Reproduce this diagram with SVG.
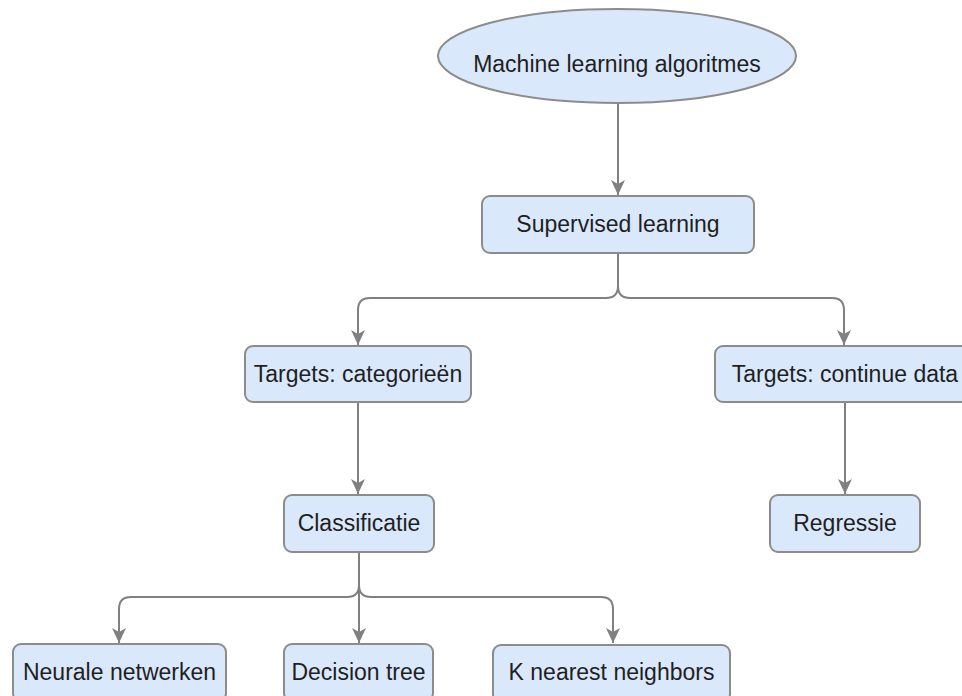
<svg xmlns="http://www.w3.org/2000/svg" width="962" height="696" viewBox="0 0 962 696">
  <style>
    .node { fill: #dae8fc; stroke: #8c8c8c; stroke-width: 2; }
    .label { font-family: "Liberation Sans", Arial, sans-serif; font-size: 23px; fill: #1f1f1f; text-anchor: middle; }
    .edge { fill: none; stroke: #808080; stroke-width: 2; }
  </style>
  <defs>
    <marker id="arrow" markerUnits="userSpaceOnUse" markerWidth="16" markerHeight="16" viewBox="0 0 16 16" refX="15" refY="8" orient="auto">
      <path d="M0,1 L15,8 L0,15 L4,8 z" fill="#808080"/>
    </marker>
  </defs>

  <!-- connectors -->
  <g id="edges">
    <path class="edge" d="M618,103 V195" marker-end="url(#arrow)"/>
    <path class="edge" d="M618,253 V286 Q618,298 606,298 H370 Q358,298 358,310 V345" marker-end="url(#arrow)"/>
    <path class="edge" d="M618,253 V286 Q618,298 630,298 H832 Q844,298 844,310 V345" marker-end="url(#arrow)"/>
    <path class="edge" d="M358,402 V494" marker-end="url(#arrow)"/>
    <path class="edge" d="M845,402 V494" marker-end="url(#arrow)"/>
    <path class="edge" d="M359,552 V585 Q359,597 347,597 H131 Q119,597 119,609 V643" marker-end="url(#arrow)"/>
    <path class="edge" d="M359,552 V643" marker-end="url(#arrow)"/>
    <path class="edge" d="M359,552 V585 Q359,597 371,597 H601 Q613,597 613,609 V643" marker-end="url(#arrow)"/>
  </g>

  <g id="ml-algoritmes">
    <ellipse class="node" cx="617" cy="56" rx="179" ry="47"/>
    <text class="label" x="617" y="72">Machine learning algoritmes</text>
  </g>

  <g id="supervised">
    <rect class="node" x="482" y="196" width="272" height="57" rx="8"/>
    <text class="label" x="618" y="232">Supervised learning</text>
  </g>

  <g id="targets-categorieen">
    <rect class="node" x="245" y="346" width="226" height="56" rx="8"/>
    <text class="label" x="358" y="382">Targets: categorieën</text>
  </g>

  <g id="targets-continue">
    <rect class="node" x="715" y="346" width="260" height="56" rx="8"/>
    <text class="label" x="845" y="382">Targets: continue data</text>
  </g>

  <g id="classificatie">
    <rect class="node" x="284" y="495" width="150" height="57" rx="8"/>
    <text class="label" x="359" y="531">Classificatie</text>
  </g>

  <g id="regressie">
    <rect class="node" x="770" y="495" width="150" height="57" rx="8"/>
    <text class="label" x="845" y="531">Regressie</text>
  </g>

  <g id="neurale-netwerken">
    <rect class="node" x="13" y="644" width="213" height="57" rx="8"/>
    <text class="label" x="119.5" y="680">Neurale netwerken</text>
  </g>

  <g id="decision-tree">
    <rect class="node" x="284" y="644" width="149" height="57" rx="8"/>
    <text class="label" x="358.5" y="680">Decision tree</text>
  </g>

  <g id="k-nearest">
    <rect class="node" x="493" y="645" width="237" height="57" rx="8"/>
    <text class="label" x="611.5" y="680">K nearest neighbors</text>
  </g>
</svg>
